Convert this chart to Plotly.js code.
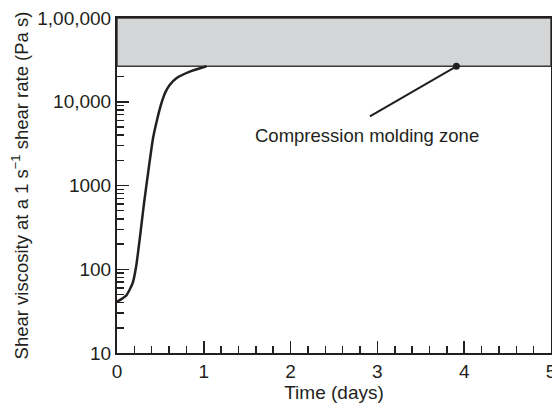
<!DOCTYPE html>
<html>
<head>
<meta charset="utf-8">
<script src="https://cdn.plot.ly/plotly-3.0.1.min.js"></script>
<style>html,body{margin:0;padding:0;background:#fff;}#chart{width:552px;height:405px;}</style>
</head>
<body>
<div id="chart"></div>
<script>
// Data
const timeDays = [0, 0.05, 0.11, 0.18, 0.22, 0.27, 0.31, 0.36, 0.415, 0.461, 0.5, 0.53, 0.561, 0.607, 0.684, 0.838, 1.03];
const viscosity = [41, 44, 49, 68, 107, 269, 600, 1460, 3660, 6050, 8730, 10990, 13200, 15850, 19050, 22860, 26500];
const moldingZoneLow = 26500;
const moldingZoneHigh = 100000;
const markerTime = [3.91];
const markerVisc = [26500];
const yTickVals = [10, 100, 1000, 10000, 100000];
const yTickText = ["10", "100", "1000", "10,000", "1,00,000"];
const yMinorVals = [20,30,40,50,60,70,80,90,200,300,400,500,600,700,800,900,2000,3000,4000,5000,6000,7000,8000,9000,20000];
const xTickVals = [0, 1, 2, 3, 4, 5];
const annotationText = "Compression molding zone";

const ink = "#231f20";
const fam = "Liberation Sans, Arial, sans-serif";
const fnt = {family: fam, size: 19, color: ink};
const fntS = {family: fam, size: 18.5, color: ink};

const traces = [
  {x: timeDays, y: viscosity, mode: "lines", type: "scatter",
   line: {color: ink, width: 2.5, shape: "spline", smoothing: 0.5}, hoverinfo: "skip"},
  {x: markerTime, y: markerVisc, mode: "markers", type: "scatter",
   marker: {color: ink, size: 7}, hoverinfo: "skip"}
];

const layout = {
  width: 552, height: 405,
  margin: {l: 117, r: 1, t: 18, b: 52},
  paper_bgcolor: "#fff", plot_bgcolor: "#fff",
  showlegend: false,
  font: fnt,
  xaxis: {
    range: [0, 5], tickvals: xTickVals, ticks: "inside", ticklen: 12, tickwidth: 1.5, tickcolor: ink,
    showline: true, linecolor: ink, linewidth: 2, mirror: true, showgrid: false, zeroline: false,
    tickfont: fnt, ticklabeloverflow: "allow",
    minor: {dtick: 0.2, ticks: "inside", ticklen: 7, tickwidth: 1.5, tickcolor: ink, showgrid: false},
    title: {text: "Time (days)", font: fnt, standoff: 5}
  },
  yaxis: {
    type: "log", range: [1, 5], tickvals: yTickVals, ticktext: yTickText,
    ticks: "inside", ticklen: 12, tickwidth: 1.5, tickcolor: ink,
    showline: true, linecolor: ink, linewidth: 2, mirror: true, showgrid: false, zeroline: false,
    tickfont: fnt, ticklabeloverflow: "allow",
    minor: {tickmode: "array", tickvals: yMinorVals, ticks: "inside", ticklen: 7, tickwidth: 1.5, tickcolor: ink, showgrid: false},
    title: {text: "Shear viscosity at a 1 s<sup>−1</sup> shear rate (Pa s)", font: fntS, standoff: 4}
  },
  shapes: [
    {type: "rect", xref: "x", yref: "y", x0: 0, x1: 5, y0: moldingZoneLow, y1: moldingZoneHigh,
     fillcolor: "#d4d5d7", line: {color: "#3a3a3a", width: 1.5}, layer: "below"}
  ],
  annotations: [
    {x: markerTime[0], y: Math.log10(markerVisc[0]), xref: "x", yref: "y", text: "",
     showarrow: true, arrowhead: 0, arrowwidth: 2, arrowcolor: ink, ax: -88, ay: 51},
    {x: markerTime[0], y: Math.log10(markerVisc[0]), xref: "x", yref: "y", text: annotationText,
     showarrow: false, xshift: -89, yshift: -69, font: fntS}
  ]
};

Plotly.newPlot("chart", traces, layout, {staticPlot: true, displayModeBar: false});
</script>
</body>
</html>
